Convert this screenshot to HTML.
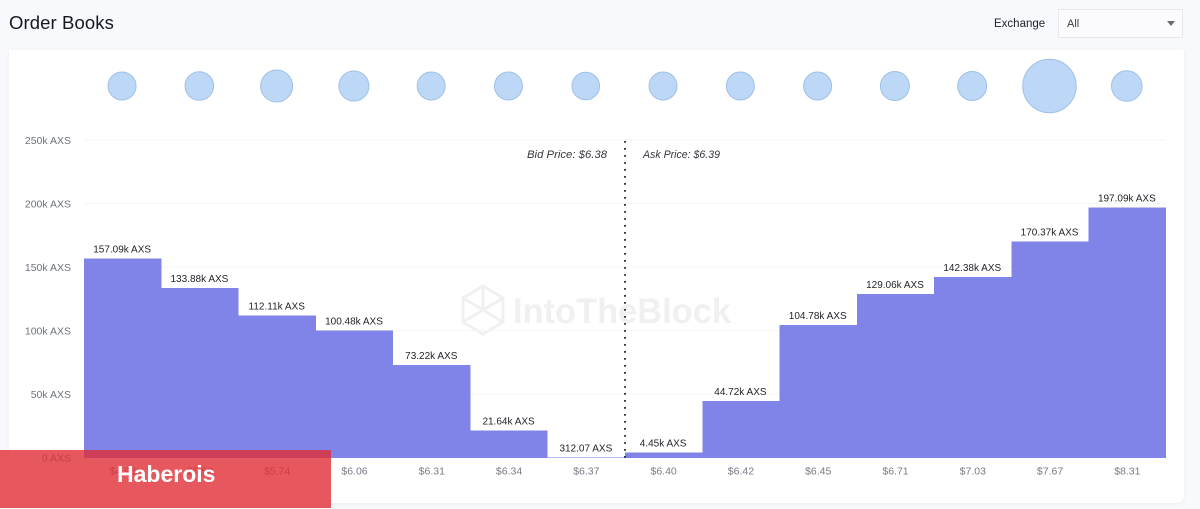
<!DOCTYPE html>
<html>
<head>
<meta charset="utf-8">
<title>Order Books</title>
<style>
html,body{margin:0;padding:0;width:1200px;height:509px;overflow:hidden;background:#f8f9fc;font-family:"Liberation Sans",sans-serif}
#root{position:relative;width:1200px;height:509px}
#card{position:absolute;left:9px;top:50px;width:1175px;height:453px;background:#fff;border-radius:0 0 7px 7px;box-shadow:0 1px 3px rgba(30,40,80,.06)}
#title{position:absolute;left:9px;top:11px;font-size:18.5px;line-height:23px;color:#16181d;letter-spacing:.1px}
#exlabel{position:absolute;left:994px;top:17px;font-size:11.5px;line-height:15px;color:#20232a}
#select{position:absolute;left:1058px;top:9px;width:123px;height:27px;border:1px solid #e6e8ee;background:#fbfbfd;cursor:pointer}
#select span{position:absolute;left:8px;top:7px;font-size:11px;line-height:14px;color:#3a3d45}
#caret{position:absolute;right:7px;top:11px;width:0;height:0;border-left:4.5px solid transparent;border-right:4.5px solid transparent;border-top:5px solid #666a73}
svg{position:absolute;left:0;top:0}
#overlay{position:absolute;left:0;top:450px;width:331px;height:58px;background:rgba(224,46,52,.8)}
#brand{position:absolute;left:117px;top:11px;font-size:23px;line-height:27px;font-weight:bold;color:#fff}
</style>
</head>
<body>
<div id="root">
  <div id="title">Order Books</div>
  <div id="exlabel">Exchange</div>
  <div id="select"><span>All</span><div id="caret"></div></div>
  <div id="card"></div>
  <svg id="chart" width="1200" height="509" viewBox="0 0 1200 509" xmlns="http://www.w3.org/2000/svg">
    <g id="watermark">
      <g fill="none" stroke="#f0f0f2" stroke-width="3">
        <polygon points="483,286 503,298 503,322 483,334 463,322 463,298"/>
        <path d="M463,298 L483,310 L503,298 M483,286 L483,310 M463,322 L483,310 L503,322"/>
      </g>
      <text x="513" y="323" font-size="35" font-weight="bold" fill="#f0f0f2" font-family="'Liberation Sans',sans-serif" textLength="218" lengthAdjust="spacingAndGlyphs">IntoTheBlock</text>
    </g>
  </svg>
  <div id="overlay"><div id="brand">Haberois</div></div>
</div>
<script>
var priceLabels = ["$4.98","$5.50","$5.74","$6.06","$6.31","$6.34","$6.37","$6.40","$6.42","$6.45","$6.71","$7.03","$7.67","$8.31"];
var depthValues = [157.09,133.88,112.11,100.48,73.22,21.64,0.31207,4.45,44.72,104.78,129.06,142.38,170.37,197.09];
var depthLabels = ["157.09k AXS","133.88k AXS","112.11k AXS","100.48k AXS","73.22k AXS","21.64k AXS","312.07 AXS","4.45k AXS","44.72k AXS","104.78k AXS","129.06k AXS","142.38k AXS","170.37k AXS","197.09k AXS"];
var bubbleValues = [196,204,256,225,196,196,190,196,196,196,210,210,713,234];
var yTickValues = [0,50,100,150,200,250];
var yTickLabels = ["0 AXS","50k AXS","100k AXS","150k AXS","200k AXS","250k AXS"];
var bidLabel = "Bid Price: $6.38";
var askLabel = "Ask Price: $6.39";

var NS = "http://www.w3.org/2000/svg";
var svg = document.getElementById("chart");
var plotLeft = 84, plotRight = 1166, yBase = 458, yMaxValue = 250, yTop = 140.5, bubbleY = 86;
var band = (plotRight - plotLeft) / priceLabels.length;
function xScale(i){ return plotLeft + i * band; }
function yScale(v){ return yBase - (v / yMaxValue) * (yBase - yTop); }
function rScale(v){ return Math.sqrt(v); }
function make(tag, attrs, text){
  var el = document.createElementNS(NS, tag);
  for (var k in attrs) el.setAttribute(k, attrs[k]);
  if (text !== undefined) el.textContent = text;
  svg.appendChild(el);
  return el;
}

yTickValues.forEach(function(v, i){
  var y = yScale(v);
  var grid = make("line", {x1: plotLeft, x2: plotRight, y1: y - 0.5, y2: y - 0.5, stroke: "#f5f6f7", "stroke-width": 1});
  
  
  var t = make("text", {x: 71, y: y + 3.5, "text-anchor": "end", "font-size": 10.5, fill: "#6d7280"}, yTickLabels[i]);
  
  
});

depthValues.forEach(function(v, i){
  var y = yScale(v);
  var bar = make("rect", {x: xScale(i), y: y, width: band, height: yBase - y, fill: "#8084e8", "shape-rendering": "crispEdges"});
  
  
  var lab = make("text", {x: xScale(i) + band / 2 - 0.5, y: y - 6, "text-anchor": "middle", "font-size": 10, fill: "#1f2127"}, depthLabels[i]);
  
  
  var xl = make("text", {x: xScale(i) + band / 2, y: 474.5, "text-anchor": "middle", "font-size": 10.5, fill: "#777b84"}, priceLabels[i]);
  
  
});

bubbleValues.forEach(function(v, i){
  var c = make("circle", {cx: xScale(i) + band / 2 - 0.6, cy: bubbleY, r: rScale(v), fill: "#bcd8f6", stroke: "#9fc0e6", "stroke-width": 1});
  
  
});

var midX = xScale(7);
var mid = make("line", {x1: midX, x2: midX, y1: 141, y2: yBase, stroke: "#22242a", "stroke-width": 1.8, "stroke-dasharray": "1.8 5.2"});


var bid = make("text", {x: midX - 98, y: 158, "text-anchor": "start", "font-size": 11, "font-style": "italic", fill: "#33363c", textLength: 80, lengthAdjust: "spacingAndGlyphs"}, bidLabel);


var ask = make("text", {x: midX + 18, y: 158, "text-anchor": "start", "font-size": 11, "font-style": "italic", fill: "#33363c", textLength: 77, lengthAdjust: "spacingAndGlyphs"}, askLabel);


</script>
</body>
</html>
